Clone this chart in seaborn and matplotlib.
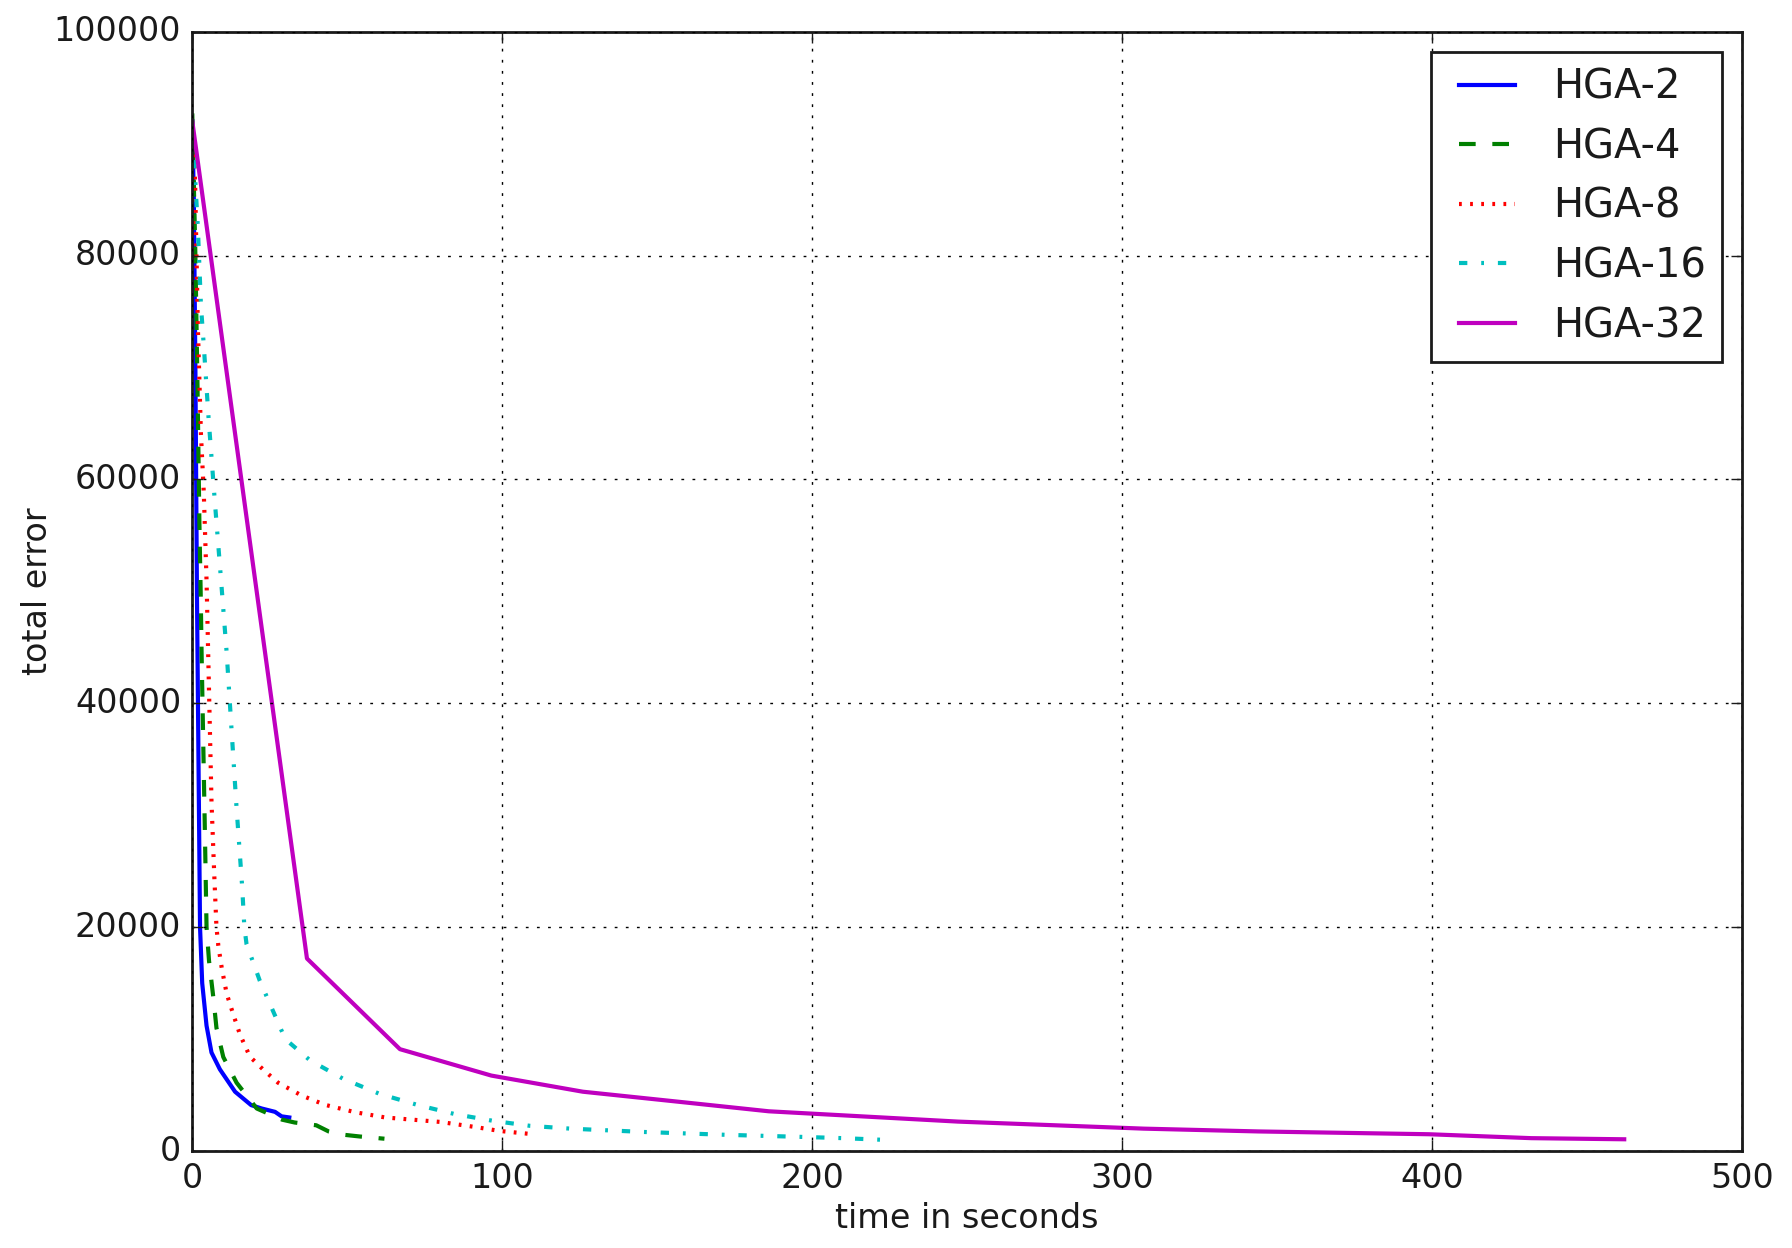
import matplotlib
matplotlib.use("Agg")
import matplotlib.pyplot as plt
import seaborn as sns
import pandas as pd

# ---- data ----
t_hga2 = [0, 0.5, 1.0, 1.5, 2.0, 2.5, 3.2, 4.6, 6.2, 8.9, 13.8, 19.0, 22.4, 26.7, 28.8, 31.3]
e_hga2 = [92000, 85000, 70000, 50000, 35000, 20000, 15000, 11200, 8800, 7300, 5300, 4100, 3800, 3500, 3100, 3000]

t_hga4 = [0, 1.0, 1.7, 2.3, 2.7, 3.0, 4.1, 4.6, 5.4, 6.8, 7.8, 10.0, 14.3, 20.8, 29.0, 33.0, 40.0, 44.0, 49.0, 54.0, 62.0]
e_hga4 = [92700, 80000, 68000, 56000, 50000, 44500, 28000, 20000, 17000, 13700, 11000, 8400, 6100, 3800, 2800, 2550, 2300, 1750, 1450, 1300, 1100]

t_hga8 = [0, 0.9, 1.8, 2.8, 3.7, 4.6, 6.2, 7.1, 7.8, 8.4, 9.5, 11.1, 13.2, 15.4, 18.6, 22.9, 27.7, 35.3, 42.8, 52.5, 62.2, 80.0, 91.2, 99.0, 110.0]
e_hga8 = [92000, 86700, 73600, 64000, 58900, 51000, 31200, 24600, 20000, 18350, 16360, 14050, 12230, 10400, 8430, 7270, 6100, 4960, 4130, 3470, 3000, 2600, 2150, 1800, 1500]

t_hga16 = [0, 0.7, 1.8, 2.8, 3.7, 5.3, 7.2, 9.2, 11.1, 12.7, 14.3, 16.1, 16.8, 17.5, 21.8, 26.7, 30.0, 38.0, 48.7, 60.5, 72.9, 84.7, 97.0, 109.0, 122.0, 146.0, 172.0, 197.0, 210.0, 223.0]
e_hga16 = [92000, 88000, 82500, 75500, 72000, 65300, 58300, 51300, 44500, 37500, 30600, 23600, 20000, 18500, 15200, 12100, 10000, 8100, 6450, 5100, 4100, 3300, 2700, 2250, 2000, 1700, 1450, 1260, 1150, 1000]

t_hga32 = [0, 37.0, 67.0, 96.5, 126.0, 157.0, 186.0, 247.0, 307.0, 344.0, 399.0, 432.0, 462.0]
e_hga32 = [92000, 17200, 9100, 6740, 5300, 4400, 3550, 2630, 2000, 1750, 1500, 1150, 1050]

series_names = ["HGA-2", "HGA-4", "HGA-8", "HGA-16", "HGA-32"]
series_t = [t_hga2, t_hga4, t_hga8, t_hga16, t_hga32]
series_e = [e_hga2, e_hga4, e_hga8, e_hga16, e_hga32]

# ---- styling ----
sns.set_theme()
plt.style.use("classic")
plt.rcParams["font.family"] = ["DejaVu Sans"]

colors = ["#0000ff", "#008000", "#ff0000", "#00bfbf", "#bf00bf"]
styles = ["-", "--", ":", "-.", "-"]

fig = plt.figure(figsize=(8.96, 6.24), dpi=200, facecolor="white")
ax = fig.add_axes([0.1073, 0.0777, 0.8648, 0.8969])

for name, t, e, c, ls in zip(series_names, series_t, series_e, colors, styles):
    df = pd.DataFrame({"time": t, "error": e})
    sns.lineplot(data=df, x="time", y="error", ax=ax, color=c, linestyle=ls,
                 linewidth=1.5, label=name, sort=False, estimator=None)

ax.set_xlim(0, 500)
ax.set_ylim(0, 100000)
ax.set_xticks([0, 100, 200, 300, 400, 500])
ax.set_yticks([0, 20000, 40000, 60000, 80000, 100000])
ax.grid(True, color="black", linestyle=":", linewidth=0.5)
ax.set_xlabel("time in seconds", fontsize=12, labelpad=2.5)
ax.set_ylabel("total error", fontsize=12, labelpad=0)
ax.tick_params(labelsize=12)
ax.legend(loc="upper right", fontsize=14.4, handlelength=2.0, frameon=True,
          fancybox=False, borderaxespad=0.5, borderpad=0.4, labelspacing=0.49,
          handletextpad=0.65)

fig.savefig("out.png", dpi=200, facecolor="white")
